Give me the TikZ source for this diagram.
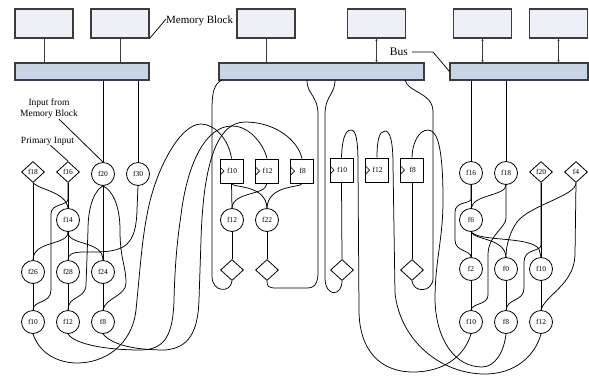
\documentclass[tikz,border=0pt]{standalone}
\usepackage{fontspec}
\setmainfont{Liberation Serif}
\usetikzlibrary{shapes.geometric,arrows.meta}
\definecolor{memfill}{HTML}{EDF0F6}
\definecolor{busfill}{HTML}{C8D5E6}
\definecolor{frame}{HTML}{3C3C3C}
\begin{document}
\begin{tikzpicture}[x=1pt,y=-1pt,
  mem/.style={draw=frame,line width=1.1pt,fill=memfill,minimum width=58pt,minimum height=29pt,inner sep=0},
  busbar/.style={draw=frame,line width=1.1pt,fill=busfill,minimum height=17pt,inner sep=0},
  nfont/.style={font=\fontsize{7.5}{8}\selectfont},
  cnode/.style={draw,line width=0.8pt,circle,minimum size=23pt,inner sep=0,nfont},
  dnode/.style={draw,line width=0.8pt,diamond,minimum width=23pt,minimum height=21pt,inner sep=0,nfont},
  reg/.style={draw,line width=0.8pt,rectangle,minimum width=23pt,minimum height=24pt,inner sep=0,nfont,
    path picture={\draw[line width=0.7pt] ([yshift=4pt]path picture bounding box.west) -- ([xshift=4pt]path picture bounding box.west) -- ([yshift=-4pt]path picture bounding box.west);}},
  wire/.style={line width=0.75pt},
  link/.style={line width=0.9pt,draw=frame},
  tip/.style={{Stealth[length=2.5pt,width=2.5pt]}-{Stealth[length=2.5pt,width=2.5pt]}},
  lbl/.style={inner sep=0}
]
\useasboundingbox (0,0) rectangle (589,376);

% memory blocks and buses
\node[mem] (mb1) at (44,23.5) {};
\node[mem] (mb2) at (120,23.5) {};
\node[mem] (mb3) at (266,23.5) {};
\node[mem] (mb4) at (376.5,23.5) {};
\node[mem] (mb5) at (482.5,23.5) {};
\node[mem] (mb6) at (558.5,23.5) {};
\node[busbar,minimum width=134pt] (bus1) at (82,71.5) {};
\node[busbar,minimum width=205pt] (bus2) at (321.5,71.5) {};
\node[busbar,minimum width=138pt] (bus3) at (519,71.5) {};
\draw[link] (mb1.south) -- (mb1.south |- bus1.north);
\draw[link] (mb2.south) -- (mb2.south |- bus1.north);
\draw[link] (mb3.south) -- (mb3.south |- bus2.north);
\draw[link,tip] (mb4.south) -- (mb4.south |- bus2.north);
\draw[link,tip] (mb5.south) -- (mb5.south |- bus3.north);
\draw[link,tip] (mb6.south) -- (mb6.south |- bus3.north);

% labels
\node[lbl,anchor=west,font=\fontsize{11}{12}\selectfont] (lblmb) at (166,21) {Memory Block};
\draw[wire] (mb2.south east) -- ([yshift=2pt]lblmb.west);
\node[lbl,anchor=east,font=\fontsize{11.5}{12}\selectfont] (lblbus) at (408,52) {Bus};
\draw[wire] ([xshift=4pt]lblbus.east) -- ++(21,0) -- (bus3.west);
\node[lbl,align=center,font=\fontsize{9.5}{11}\selectfont] (lblin) at (49,109) {Input from\\Memory Block};
\node[lbl,font=\fontsize{9.5}{11}\selectfont] (lblpi) at (47.5,141) {Primary Input};

% left cluster
\node[dnode] (d18) at (33,172) {f18};
\node[dnode] (d16) at (68,172) {f16};
\node[cnode] (c20) at (103,174) {f20};
\node[cnode] (c30) at (138,174) {f30};
\node[cnode] (c14) at (68,220) {f14};
\node[cnode] (c26) at (33,272) {f26};
\node[cnode] (c28) at (68,272) {f28};
\node[cnode] (c24) at (103,272) {f24};
\node[cnode] (c10) at (33,322) {f10};
\node[cnode] (c12) at (68,322) {f12};
\node[cnode] (c8) at (103,322) {f8};
\draw[wire] ([xshift=10pt]lblin.south) -- (c20.north);
\draw[wire] ([xshift=3pt]lblpi.south) -- (d16.north);

% center cluster
\node[reg] (r10a) at (231.5,171) {\,f10};
\node[reg] (r12a) at (267,171) {\,f12};
\node[reg] (r8a) at (302,171) {\,f8};
\node[reg] (r10b) at (341.5,170) {\,f10};
\node[reg] (r12b) at (377,170) {\,f12};
\node[reg] (r8b) at (412,170) {\,f8};
\node[cnode] (cc12) at (232,220) {f12};
\node[cnode] (cc22) at (267,220) {f22};
\node[dnode] (e1) at (232,270) {};
\node[dnode] (e2) at (267,270) {};
\node[dnode] (e3) at (342,270) {};
\node[dnode] (e4) at (412,270) {};

% right cluster
\node[cnode] (rc16) at (471,173) {f16};
\node[cnode] (rc18) at (506,173) {f18};
\node[dnode] (rd20) at (541,172) {f20};
\node[dnode] (rd4) at (576,172) {f4};
\node[cnode] (rc6) at (471,220) {f6};
\node[cnode] (rc2) at (471,269) {f2};
\node[cnode] (rc0) at (506,269) {f0};
\node[cnode] (rc10m) at (541,269) {f10};
\node[cnode] (rc10) at (471,322) {f10};
\node[cnode] (rc8) at (506,322) {f8};
\node[cnode] (rc12) at (541,322) {f12};

\coordinate (b2a) at (222,80);
\coordinate (b2b) at (307,80);
\coordinate (b2c) at (335,80);
\coordinate (b2d) at (405,80);

% ---- left cluster wiring
\draw[wire] (c20.north |- bus1.south) -- (c20.north);
\draw[wire] (c30.north |- bus1.south) -- (c30.north);
\draw[wire] (d18.south) -- (c26.north);
\draw[wire] (d18.south) .. controls (40,190) and (66,192) .. (c14.north);
\draw[wire] (d16.south) -- (c14.north);
\draw[wire] (d16.south) -- (68,199) .. controls (68,206) and (51,203) .. (51,214) -- (51,290) .. controls (51,304) and (33,300) .. (c10.north);
\draw[wire] (c14.south) .. controls (68,246) and (33,240) .. (c26.north);
\draw[wire] (c14.south) -- (c28.north);
\draw[wire] (c14.south) .. controls (68,246) and (103,240) .. (c24.north);
\draw[wire] (c20.south) -- (c24.north);
\draw[wire] (c20.south) .. controls (95,190) and (88,205) .. (88,230) -- (86,285) .. controls (85,300) and (68,295) .. (c12.north);
\draw[wire] (c20.south) .. controls (112,190) and (120,205) .. (120,230) .. controls (120,260) and (126,265) .. (126,283) .. controls (126,296) and (105,298) .. (c8.north);
\draw[wire] (c30.south) -- (137,210) .. controls (136,245) and (125,251) .. (98,252) -- (84,252) .. controls (71,252) and (68,255) .. (c28.north);
\draw[wire] (c26.south) -- (c10.north);
\draw[wire] (c28.south) -- (c12.north);
\draw[wire] (c24.south) -- (c8.north);

% ---- long wires from left cluster to registers
\draw[wire] (c10.south) .. controls (40,355) and (60,363) .. (77,363) .. controls (105,363) and (132,345) .. (136,310) .. controls (140,270) and (142,240) .. (147,215) .. controls (155,170) and (180,124) .. (201,124) .. controls (215,124) and (229,140) .. (r10a.north);
\draw[wire] (c12.south) .. controls (75,345) and (110,350) .. (140,350) .. controls (165,350) and (173,335) .. (174,300) .. controls (175,260) and (178,235) .. (181,215) .. controls (187,165) and (205,126) .. (232,126) .. controls (250,126) and (264,145) .. (r12a.north);
\draw[wire] (c8.south) .. controls (112,345) and (135,350) .. (165,350) .. controls (190,348) and (198,330) .. (199,300) -- (201,240) .. controls (203,170) and (215,122) .. (245,122) .. controls (275,122) and (298,140) .. (r8a.north);

% ---- center wiring
\draw[wire] (b2a) .. controls (214,84) and (212,92) .. (212,110) -- (212,276) .. controls (212,293) and (231,293) .. (e1.south);
\draw[wire] (b2b) .. controls (307,95) and (318,95) .. (318,115) -- (318,272) .. controls (318,290) and (310,288) .. (300,288) -- (276,288) .. controls (268,288) and (267,286) .. (e2.south);
\draw[wire] (b2c) .. controls (335,95) and (325,95) .. (325,115) -- (325,278) .. controls (325,297) and (342,297) .. (e3.south);
\draw[wire] (b2d) .. controls (408,93) and (433,92) .. (433,112) -- (433,278) .. controls (433,293) and (413,293) .. (e4.south);
\draw[wire] (r10a.south) -- (cc12.north);
\draw[wire] (r10a.south) .. controls (232,188) and (266,184) .. (cc22.north);
\draw[wire] (r12a.south) .. controls (266,196) and (233,191) .. (cc12.north);
\draw[wire] (r8a.south) .. controls (302,188) and (268,184) .. (cc22.north);
\draw[wire] (cc12.south) -- (e1.north);
\draw[wire] (cc22.south) -- (e2.north);
\draw[wire] (r10b.south) -- (e3.north);
\draw[wire] (r8b.south) -- (e4.north);

% ---- right cluster to registers
\draw[wire] (rc10.south) .. controls (465,355) and (445,372) .. (413,372) .. controls (380,372) and (359,350) .. (359,310) -- (358,165) .. controls (358,140) and (356,130) .. (351,130) .. controls (345,130) and (342,140) .. (r10b.north);
\draw[wire] (rc12.south) .. controls (535,356) and (515,374) .. (485,374) .. controls (440,374) and (400,340) .. (395,293) -- (393,165) .. controls (393,141) and (390,131) .. (385,131) .. controls (379,131) and (377,141) .. (r12b.north);
\draw[wire] (rc8.south) .. controls (504,352) and (495,367) .. (482,367) .. controls (455,367) and (436,340) .. (435,300) .. controls (435,260) and (443,240) .. (443,200) .. controls (443,150) and (438,130) .. (428,130) .. controls (418,130) and (412,145) .. (r8b.north);

% ---- right cluster wiring
\draw[wire] (rc16.north |- bus3.south) -- (rc16.north);
\draw[wire] (rc18.north |- bus3.south) -- (rc18.north);
\draw[wire] (rc16.south) -- (rc6.north);
\draw[wire] (rc18.south) .. controls (506,196) and (474,194) .. (rc6.north);
\draw[wire] (rc16.south) -- (471,199) .. controls (471,204) and (455,201) .. (455,212) -- (455,240) .. controls (455,252) and (471,250) .. (rc2.north);
\draw[wire] (rc18.south) -- (506,218) .. controls (506,228) and (488,235) .. (488,255) -- (488,295) .. controls (488,305) and (472,303) .. (rc10.north);
\draw[wire] (rc6.south) -- (rc2.north);
\draw[wire] (rc6.south) .. controls (474,240) and (505,238) .. (rc0.north);
\draw[wire] (rc6.south) .. controls (480,242) and (530,236) .. (539,249) -- (rc10m.north);
\draw[wire] (rd20.south) -- (rc10m.north);
\draw[wire] (rd20.south) -- (541,245) .. controls (541,252) and (524,248) .. (524,262) -- (524,288) .. controls (524,302) and (507,298) .. (rc8.north);
\draw[wire] (rd4.south) .. controls (576,196) and (530,205) .. (517,222) .. controls (510,232) and (506,245) .. (rc0.north);
\draw[wire] (rd4.south) -- (575,255) .. controls (574,285) and (545,295) .. (rc12.north);
\draw[wire] (rc2.south) -- (rc10.north);
\draw[wire] (rc0.south) -- (rc8.north);
\draw[wire] (rc10m.south) -- (rc12.north);
\end{tikzpicture}
\end{document}
